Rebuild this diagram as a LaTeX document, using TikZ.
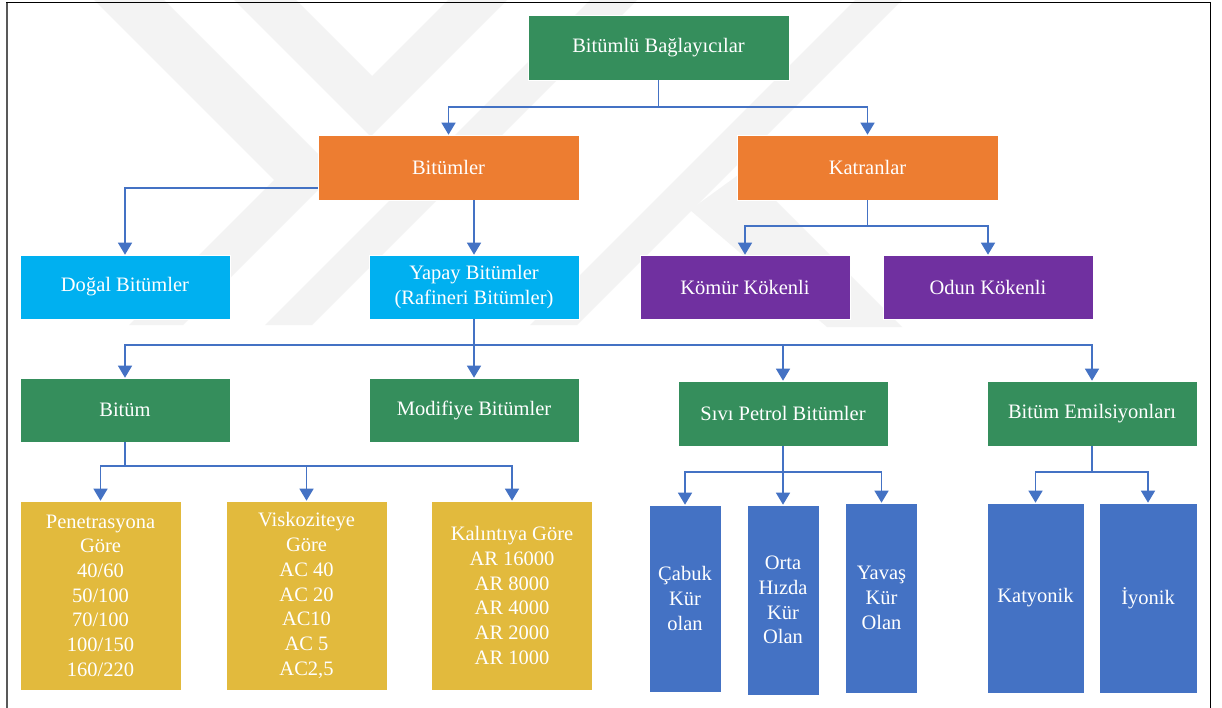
\documentclass[tikz,border=0pt]{standalone}
\usepackage{fontspec}
\setmainfont{Liberation Serif}
\newfontfamily\tnr{Liberation Serif}
\usetikzlibrary{arrows.meta}
\definecolor{cgreen}{RGB}{53,142,92}
\definecolor{corange}{RGB}{237,125,49}
\definecolor{clblue}{RGB}{0,176,240}
\definecolor{cpurple}{RGB}{112,48,160}
\definecolor{cblue}{RGB}{68,114,196}
\definecolor{cgold}{RGB}{226,186,61}
\definecolor{cwm}{RGB}{243,243,243}
\begin{document}
\begin{tikzpicture}[x=1pt,y=-1pt,
  box/.style={draw=white, line width=0.6pt, text=white, align=center, inner sep=2pt,
    font=\tnr\fontsize{20.5}{24.7}\selectfont},
  wide/.style={box, minimum width=261pt, minimum height=65pt},
  mid/.style={box, minimum width=210pt, minimum height=64pt},
  tall/.style={box, fill=cgold, minimum width=161pt, minimum height=189pt},
  narrow/.style={box, fill=cblue, minimum width=72pt, minimum height=189pt},
  conn/.style={draw=cblue, line width=1.4pt, -{Triangle[width=14pt,length=12pt]}},
  plain/.style={draw=cblue, line width=1.4pt},
  wm/.style={fill=cwm}]
\useasboundingbox (0,0) rectangle (1222,708);
\fill[white] (0,0) rectangle (1222,708);
% watermark (faint)
\fill[wm] (94,0) -- (164,0) -- (336,172) -- (183,325) -- (129,325) -- (274,180) -- cycle;
\fill[wm] (234,0) -- (296,0) -- (372,76) -- (448,0) -- (507,0) -- (370.5,136.5) -- cycle;
\fill[wm] (265,325) -- (312,325) -- (637,0) -- (590,0) -- cycle;
\fill[wm] (530,325) -- (577,325) -- (902,0) -- (855,0) -- cycle;
\fill[wm] (690,210) -- (745,170) -- (902,327) -- (827,327) -- cycle;
% frame
\draw[line width=2pt, black!65] (6.5,2) -- (6.5,708);
\draw[line width=1.2pt] (6,2.5) -- (1211,2.5);
\draw[line width=1.5pt] (1210.5,2) -- (1210.5,708);
% nodes
\node[wide, fill=cgreen] (root) at (658.5,47.5) {Bitümlü Bağlayıcılar};
\node[wide, fill=corange] (bit) at (448.5,167.5) {Bitümler};
\node[wide, fill=corange] (kat) at (867.5,167.5) {Katranlar};
\node[mid, fill=clblue] (dogal) at (125,287) {Doğal Bitümler};
\node[mid, fill=clblue] (yapay) at (474,287) {Yapay Bitümler\\(Rafineri Bitümler)};
\node[mid, fill=cpurple] (komur) at (745,287) {Kömür Kökenli};
\node[mid, fill=cpurple] (odun) at (988,287) {Odun Kökenli};
\node[mid, fill=cgreen] (bitum) at (125,410) {Bitüm};
\node[mid, fill=cgreen] (modif) at (474,410) {Modifiye Bitümler};
\node[mid, fill=cgreen, minimum height=65pt] (sivi) at (783,413.5) {Sıvı Petrol Bitümler};
\node[mid, fill=cgreen, minimum height=65pt] (emil) at (1092,413.5) {Bitüm Emilsiyonları};
\node[tall] (pen) at (100.5,595.5) {Penetrasyona\\Göre\\40/60\\50/100\\70/100\\100/150\\160/220};
\node[tall] (visk) at (306.5,595.5) {Viskoziteye\\Göre\\AC 40\\AC 20\\AC10\\AC 5\\AC2,5};
\node[tall] (kal) at (512,595.5) {Kalıntıya Göre\\AR 16000\\AR 8000\\AR 4000\\AR 2000\\AR 1000};
\node[narrow, minimum height=187pt] (cabuk) at (685,598.5) {Çabuk\\Kür\\olan};
\node[narrow, minimum height=190pt] (orta) at (783,600) {Orta\\Hızda\\Kür\\Olan};
\node[narrow, minimum height=190pt] (yavas) at (881.5,598) {Yavaş\\Kür\\Olan};
\node[narrow, minimum width=97pt, minimum height=190pt] (katy) at (1035.5,598) {Katyonik};
\node[narrow, minimum width=98pt, minimum height=190pt] (iyon) at (1148,598) {İyonik};
% junctions
\coordinate (j1) at (658.5,107);
\coordinate (j2) at (867.5,226);
\coordinate (j3) at (474,345);
\coordinate (j4) at (125,466);
\coordinate (j5) at (783,472);
\coordinate (j6) at (1092,472);
% connectors
\draw[plain] (root.south) -- (j1);
\draw[conn] (j1) -| (bit.north);
\draw[conn] (j1) -| (kat.north);
\draw[conn] ([yshift=-20.5pt]bit.west) -| (dogal.north);
\draw[conn] (bit.south -| yapay.north) -- (yapay.north);
\draw[plain] (kat.south) -- (j2);
\draw[conn] (j2) -| (komur.north);
\draw[conn] (j2) -| (odun.north);
\draw[plain] (yapay.south) -- (j3);
\draw[conn] (j3) -- (modif.north);
\draw[conn] (j3) -| (bitum.north);
\draw[conn] (j3) -| (sivi.north);
\draw[conn] (j3) -| (emil.north);
\draw[plain] (bitum.south) -- (j4);
\draw[conn] (j4) -| (pen.north);
\draw[conn] (j4) -| (visk.north);
\draw[conn] (j4) -| (kal.north);
\draw[plain] (sivi.south) -- (j5);
\draw[conn] (j5) -| (cabuk.north);
\draw[conn] (j5) -- (orta.north);
\draw[conn] (j5) -| (yavas.north);
\draw[plain] (emil.south) -- (j6);
\draw[conn] (j6) -| (katy.north);
\draw[conn] (j6) -| (iyon.north);
\end{tikzpicture}
\end{document}
